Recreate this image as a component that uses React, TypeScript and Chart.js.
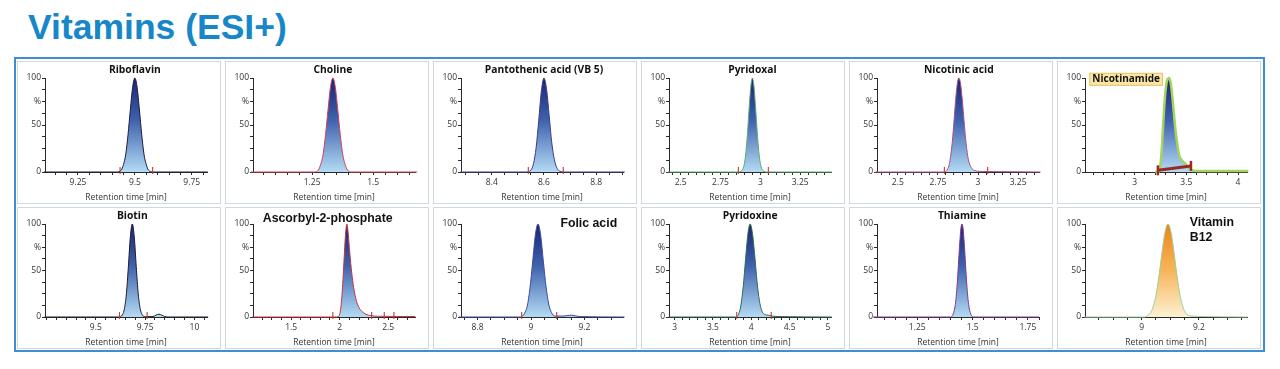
import React, { useEffect, useRef } from "react";
import { Chart, registerables } from "chart.js";

Chart.register(...registerables);

// ---------- chromatogram data: retention time [min] / relative intensity [%] ----------
const riboflavinTime = [9.1, 9.42, 9.44, 9.45, 9.46, 9.47, 9.48, 9.49, 9.5, 9.51, 9.52, 9.53, 9.54, 9.55, 9.56, 9.58, 9.82];
const riboflavinPct = [0, 0, 2, 8, 19, 40, 66, 90, 100, 90, 66, 40, 19, 8, 2, 0, 0];
const riboflavinMarks = [9.435, 9.578];

const cholineTime = [1.0, 1.26, 1.275, 1.285, 1.295, 1.305, 1.315, 1.325, 1.335, 1.345, 1.355, 1.365, 1.375, 1.385, 1.395, 1.41, 1.68];
const cholinePct = [0, 0, 2, 8, 19, 40, 66, 90, 100, 90, 66, 40, 19, 8, 2, 0, 0];
const cholineMarks: number[] = [];

const pantothenicTime = [8.28, 8.53, 8.55, 8.56, 8.57, 8.58, 8.59, 8.6, 8.61, 8.62, 8.63, 8.64, 8.65, 8.66, 8.68, 8.91];
const pantothenicPct = [0, 0, 2, 9, 26, 55, 86, 100, 88, 60, 31, 13, 4, 1, 0, 0];
const pantothenicMarks = [8.54, 8.674];

const pyridoxalTime = [2.42, 2.86, 2.88, 2.89, 2.9, 2.91, 2.92, 2.93, 2.94, 2.95, 2.96, 2.97, 2.98, 2.99, 3.0, 3.01, 3.02, 3.04, 3.45];
const pyridoxalPct = [0, 0, 1, 3, 9, 22, 43, 69, 91, 100, 91, 69, 43, 22, 9, 3, 1, 0, 0];
const pyridoxalMarks = [2.862, 3.05];

const nicotinicTime = [2.36, 2.79, 2.81, 2.82, 2.83, 2.84, 2.85, 2.86, 2.87, 2.88, 2.89, 2.9, 2.91, 2.92, 2.93, 2.94, 2.96, 2.98, 3.0, 3.06, 3.39];
const nicotinicPct = [0, 0, 3, 8, 18, 33, 54, 76, 93, 100, 95, 80, 60, 40, 24, 13, 4, 1.5, 0.8, 0.5, 0];
const nicotinicMarks = [2.79, 3.06];

const nicotinamideTime = [3.2, 3.23, 3.245, 3.26, 3.275, 3.29, 3.305, 3.32, 3.335, 3.35, 3.365, 3.38, 3.395, 3.41, 3.43, 3.46, 3.49, 3.52, 3.55, 3.6, 4.1];
const nicotinamidePct = [0, 0, 4, 20, 48, 75, 92, 99, 100, 94, 80, 62, 45, 32, 18, 12, 9, 5, 2, 1, 1];
const nicotinamideMarks: number[] = [];
const nicotinamideBaseTime = [3.225, 3.545];
const nicotinamideBasePct = [1.8, 6.5];

const biotinTime = [9.24, 9.615, 9.635, 9.645, 9.655, 9.665, 9.675, 9.685, 9.695, 9.705, 9.715, 9.725, 9.735, 9.75, 9.79, 9.805, 9.82, 9.835, 9.85, 9.87, 10.07];
const biotinPct = [0, 0, 2.5, 9, 25, 54, 86, 100, 86, 54, 25, 9, 2.5, 0.3, 0.5, 2, 3, 2, 0.5, 0, 0];
const biotinMarks = [9.62, 9.76];

const ascorbylTime = [1.1, 1.95, 1.99, 2.0, 2.01, 2.02, 2.03, 2.04, 2.05, 2.06, 2.07, 2.075, 2.08, 2.09, 2.1, 2.12, 2.14, 2.16, 2.18, 2.2, 2.23, 2.27, 2.32, 2.4, 2.78];
const ascorbylPct = [0, 0, 0.5, 3, 8, 18, 32, 50, 70, 88, 98, 100, 98, 88, 75, 52, 35, 23, 15, 10, 6, 3, 1.5, 0.8, 0.5];
const ascorbylMarks = [1.93, 2.33, 2.46, 2.56];

const folicTime = [8.73, 8.96, 8.976, 8.986, 8.996, 9.006, 9.016, 9.026, 9.036, 9.046, 9.056, 9.066, 9.076, 9.09, 9.12, 9.15, 9.18, 9.35];
const folicPct = [0, 0, 4, 12, 31, 59, 88, 100, 88, 60, 33, 14, 5, 1, 1, 2, 0.5, 0];
const folicMarks = [8.965, 9.096];

const pyridoxineTime = [2.92, 3.8, 3.835, 3.865, 3.895, 3.925, 3.955, 3.985, 4.015, 4.045, 4.075, 4.105, 4.135, 4.17, 4.22, 4.27, 4.35, 5.05];
const pyridoxinePct = [0, 0, 3, 13, 33, 62, 89, 100, 90, 66, 38, 18, 7, 3, 2, 1, 0.5, 0];
const pyridoxineMarks = [3.81, 4.26];

const thiamineTime = [1.05, 1.4, 1.412, 1.422, 1.427, 1.432, 1.437, 1.442, 1.447, 1.452, 1.457, 1.462, 1.467, 1.472, 1.477, 1.482, 1.492, 1.505, 1.8];
const thiaminePct = [0, 0, 3, 13.5, 25, 41, 61, 80, 95, 100, 95, 80, 61, 41, 25, 13.5, 3, 0, 0];
const thiamineMarks: number[] = [];

const b12Time = [8.8, 9.01, 9.022, 9.032, 9.042, 9.052, 9.062, 9.072, 9.082, 9.092, 9.102, 9.112, 9.122, 9.132, 9.142, 9.152, 9.162, 9.18, 9.22, 9.37];
const b12Pct = [0, 0, 2, 5, 13, 27, 48, 72, 92, 100, 92, 72, 48, 27, 13, 5, 2, 1, 0.5, 0];
const b12Marks: number[] = [];

// ---------- text ----------
const pageTitle = "Vitamins (ESI+)";
const xAxisTitle = "Retention time [min]";
const yTickLabelValues = [0, 50, 100];
const yUnitLabel = "%";
const yUnitValue = 75;

type PanelData = {
  name: string;
  time: number[];
  pct: number[];
  marks: number[];
  xMin: number;
  xMax: number;
  labelStep: number;
  minorStep: number;
};

const panelData: PanelData[] = [
  { name: "Riboflavin", time: riboflavinTime, pct: riboflavinPct, marks: riboflavinMarks, xMin: 9.105, xMax: 9.817, labelStep: 0.25, minorStep: 0.05 },
  { name: "Choline", time: cholineTime, pct: cholinePct, marks: cholineMarks, xMin: 1.008, xMax: 1.671, labelStep: 0.25, minorStep: 0.05 },
  { name: "Pantothenic acid (VB 5)", time: pantothenicTime, pct: pantothenicPct, marks: pantothenicMarks, xMin: 8.282, xMax: 8.903, labelStep: 0.2, minorStep: 0.05 },
  { name: "Pyridoxal", time: pyridoxalTime, pct: pyridoxalPct, marks: pyridoxalMarks, xMin: 2.427, xMax: 3.443, labelStep: 0.25, minorStep: 0.05 },
  { name: "Nicotinic acid", time: nicotinicTime, pct: nicotinicPct, marks: nicotinicMarks, xMin: 2.37, xMax: 3.38, labelStep: 0.25, minorStep: 0.05 },
  { name: "Nicotinamide", time: nicotinamideTime, pct: nicotinamidePct, marks: nicotinamideMarks, xMin: 2.52, xMax: 4.087, labelStep: 0.5, minorStep: 0.1 },
  { name: "Biotin", time: biotinTime, pct: biotinPct, marks: biotinMarks, xMin: 9.242, xMax: 10.064, labelStep: 0.25, minorStep: 0.05 },
  { name: "Ascorbyl-2-phosphate", time: ascorbylTime, pct: ascorbylPct, marks: ascorbylMarks, xMin: 1.107, xMax: 2.777, labelStep: 0.5, minorStep: 0.1 },
  { name: "Folic acid", time: folicTime, pct: folicPct, marks: folicMarks, xMin: 8.738, xMax: 9.344, labelStep: 0.2, minorStep: 0.05 },
  { name: "Pyridoxine", time: pyridoxineTime, pct: pyridoxinePct, marks: pyridoxineMarks, xMin: 2.926, xMax: 5.04, labelStep: 0.5, minorStep: 0.1 },
  { name: "Thiamine", time: thiamineTime, pct: thiaminePct, marks: thiamineMarks, xMin: 1.068, xMax: 1.8, labelStep: 0.25, minorStep: 0.05 },
  { name: "Vitamin B12", time: b12Time, pct: b12Pct, marks: b12Marks, xMin: 8.802, xMax: 9.368, labelStep: 0.2, minorStep: 0.05 },
];

// ---------- styles ----------
type LabelKind = "apex" | "boxed" | "large";
type PanelStyle = {
  line: string;
  lineWidth: number;
  palette: "blue" | "orange";
  label: LabelKind;
  labelX?: number;
  labelY?: number;
  align?: "left" | "center";
  wrap?: boolean;
};

const panelStyles: PanelStyle[] = [
  { line: "#1c1c40", lineWidth: 1, palette: "blue", label: "apex" },
  { line: "#cf3f5a", lineWidth: 1, palette: "blue", label: "apex" },
  { line: "#3f3a86", lineWidth: 1, palette: "blue", label: "apex" },
  { line: "#5fa86e", lineWidth: 1, palette: "blue", label: "apex" },
  { line: "#a2508e", lineWidth: 1, palette: "blue", label: "apex" },
  { line: "#a6d35e", lineWidth: 2.5, palette: "blue", label: "boxed", labelX: 2.918, labelY: 98.6 },
  { line: "#1c1c2c", lineWidth: 1, palette: "blue", label: "apex" },
  { line: "#c3343f", lineWidth: 1, palette: "blue", label: "large", labelX: 1.877, labelY: 105.4, align: "center" },
  { line: "#3b4aa0", lineWidth: 1, palette: "blue", label: "large", labelX: 9.216, labelY: 100, align: "center" },
  { line: "#2f6c52", lineWidth: 1, palette: "blue", label: "apex" },
  { line: "#7d3b8c", lineWidth: 1, palette: "blue", label: "apex" },
  { line: "#9ccf9f", lineWidth: 1, palette: "orange", label: "large", labelX: 9.168, labelY: 101.4, align: "left", wrap: true },
];

const UI_FONT = '"Open Sans", "Noto Sans", sans-serif';
const ARIAL = '"Liberation Sans", Arial, sans-serif';
const AXIS_COLOR = "#2a2a2a";
const TEXT_COLOR = "#333";

const PANEL_W = 204;
const PANEL_PITCH = 208;
const PANEL_LEFT0 = 17;
const ROW_TOPS = [61, 207];
const ROW_HEIGHTS = [143, 142];

function fmt(v: number) {
  return String(parseFloat(v.toFixed(3)));
}

function isMultiple(v: number, step: number) {
  const r = v / step;
  return Math.abs(r - Math.round(r)) < 1e-6;
}

function makeGradient(chart: any, palette: "blue" | "orange") {
  const { ctx, chartArea } = chart;
  if (!chartArea) return "rgba(0,0,0,0)";
  const g = ctx.createLinearGradient(0, chartArea.top, 0, chartArea.bottom);
  if (palette === "blue") {
    g.addColorStop(0, "#1b2270");
    g.addColorStop(0.45, "#3f62ad");
    g.addColorStop(1, "#b3dbf4");
  } else {
    g.addColorStop(0, "#ee8418");
    g.addColorStop(0.5, "#f6b55a");
    g.addColorStop(1, "#fdf1d2");
  }
  return g;
}

function titlePlugin(d: PanelData, s: PanelStyle) {
  return {
    id: "panelTitle",
    afterDraw(chart: any) {
      const ctx = chart.ctx;
      const xs = chart.scales.x;
      const ys = chart.scales.y;
      ctx.save();
      ctx.textBaseline = "middle";
      ctx.fillStyle = "#111";
      if (s.label === "apex") {
        const peak = d.pct.indexOf(Math.max(...d.pct));
        ctx.font = `bold 10.3px ${UI_FONT}`;
        ctx.textAlign = "center";
        ctx.fillText(d.name, xs.getPixelForValue(d.time[peak]), ys.getPixelForValue(108.5));
      } else if (s.label === "boxed") {
        ctx.font = `bold 10px ${UI_FONT}`;
        const w = ctx.measureText(d.name).width;
        const cx = xs.getPixelForValue(s.labelX);
        const cy = ys.getPixelForValue(s.labelY);
        ctx.fillStyle = "#fbe7a3";
        ctx.strokeStyle = "#e3c36c";
        ctx.lineWidth = 1;
        ctx.fillRect(cx - w / 2 - 3, cy - 6.5, w + 6, 13);
        ctx.strokeRect(cx - w / 2 - 3 + 0.5, cy - 6.5 + 0.5, w + 5, 12);
        ctx.fillStyle = "#111";
        ctx.textAlign = "center";
        ctx.fillText(d.name, cx, cy);
      } else {
        ctx.font = `bold 12.3px ${ARIAL}`;
        ctx.textAlign = s.align || "center";
        const lines = s.wrap ? d.name.split(" ") : [d.name];
        const x = xs.getPixelForValue(s.labelX);
        const y = ys.getPixelForValue(s.labelY);
        lines.forEach((ln, i) => ctx.fillText(ln, x, y + i * 14.6));
      }
      ctx.restore();
    },
  };
}

function ChromPanel({ d, s, left, top, height }: { d: PanelData; s: PanelStyle; left: number; top: number; height: number }) {
  const ref = useRef<HTMLCanvasElement>(null);
  const cw = PANEL_W - 2;
  const ch = height - 2;

  useEffect(() => {
    const canvas = ref.current;
    if (!canvas) return;
    const datasets: any[] = [
      {
        data: d.time.map((t, i) => ({ x: t, y: d.pct[i] })),
        borderColor: s.line,
        borderWidth: s.lineWidth,
        backgroundColor: (c: any) => makeGradient(c.chart, s.palette),
        fill: "origin",
        pointRadius: 0,
        cubicInterpolationMode: "monotone",
        clip: 6,
        order: 3,
      },
    ];
    if (d.name === "Nicotinamide") {
      datasets.push({
        data: nicotinamideBaseTime.map((t, i) => ({ x: t, y: nicotinamideBasePct[i] })),
        borderColor: "#9a2a1e",
        borderWidth: 3,
        pointStyle: "line",
        pointRotation: 90,
        pointRadius: 5,
        pointBorderColor: "#9a2a1e",
        pointBorderWidth: 2.5,
        fill: false,
        clip: 6,
        order: 1,
      });
    }
    if (d.marks.length) {
      datasets.push({
        data: d.marks.map((m) => ({ x: m, y: 1.5 })),
        showLine: false,
        pointStyle: "line",
        pointRotation: 90,
        pointRadius: 3.5,
        pointBorderColor: "#c4382e",
        pointBackgroundColor: "#c4382e",
        pointBorderWidth: 1.1,
        fill: false,
        clip: 6,
        order: 0,
      });
    }
    const span = d.xMax - d.xMin;

    const chart = new Chart(canvas, {
      type: "line",
      data: { datasets },
      options: {
        animation: false,
        responsive: false,
        devicePixelRatio: 1,
        events: [],
        layout: { padding: { top: 16, right: 13, bottom: 0, left: 0 } },
        plugins: { legend: { display: false }, tooltip: { enabled: false }, title: { display: false } },
        scales: {
          x: {
            type: "linear",
            min: d.xMin,
            max: d.xMax,
            afterFit: (sc: any) => {
              sc.height = 31;
            },
            border: { display: true, color: AXIS_COLOR, width: 1 },
            grid: { drawOnChartArea: false, drawTicks: true, tickLength: 3, color: AXIS_COLOR },
            ticks: {
              stepSize: d.minorStep,
              autoSkip: false,
              includeBounds: false,
              maxRotation: 0,
              minRotation: 0,
              padding: 2,
              color: TEXT_COLOR,
              font: { family: UI_FONT, size: 8.5 },
              callback: (v: any) => {
                const n = Number(v);
                if ((n - d.xMin) / span < 0.02) return "";
                return isMultiple(n, d.labelStep) ? fmt(n) : "";
              },
            },
            title: {
              display: true,
              text: xAxisTitle,
              color: TEXT_COLOR,
              font: { family: UI_FONT, size: 8.5 },
              padding: { top: 1, bottom: 0 },
            },
          },
          y: {
            type: "linear",
            min: 0,
            max: 100,
            afterFit: (sc: any) => {
              sc.width = 27;
            },
            border: { display: true, color: AXIS_COLOR, width: 1 },
            grid: { drawOnChartArea: false, drawTicks: true, tickLength: 3, color: AXIS_COLOR },
            ticks: {
              stepSize: 12.5,
              autoSkip: false,
              padding: 1,
              color: TEXT_COLOR,
              font: { family: UI_FONT, size: 8.5 },
              callback: (v: any) => {
                const n = Number(v);
                if (yTickLabelValues.some((t) => Math.abs(t - n) < 1e-6)) return fmt(n);
                if (Math.abs(n - yUnitValue) < 1e-6) return yUnitLabel;
                return "";
              },
            },
          },
        },
      } as any,
      plugins: [titlePlugin(d, s)],
    } as any);
    return () => chart.destroy();
  }, []);

  return (
    <div
      style={{
        position: "absolute",
        left,
        top,
        width: PANEL_W,
        height,
        border: "1px solid #cfd8e1",
        boxSizing: "border-box",
        background: "#fff",
      }}
    >
      <canvas ref={ref} width={cw} height={ch} style={{ display: "block", width: cw, height: ch }} />
    </div>
  );
}

export default function App() {
  return (
    <div style={{ position: "absolute", left: 0, top: 0, width: 1280, height: 369, background: "#fff", overflow: "hidden" }}>
      <div
        style={{
          position: "absolute",
          left: 28,
          top: 10,
          fontFamily: ARIAL,
          fontWeight: "bold",
          fontSize: 35.5,
          lineHeight: "35px",
          color: "#1787c8",
          whiteSpace: "nowrap",
        }}
      >
        {pageTitle}
      </div>
      <div
        style={{
          position: "absolute",
          left: 14,
          top: 57,
          width: 1251,
          height: 295,
          border: "2px solid #3d8fd2",
          boxSizing: "border-box",
        }}
      />
      {panelData.map((d, i) => {
        const row = Math.floor(i / 6);
        const col = i % 6;
        return (
          <ChromPanel
            key={d.name}
            d={d}
            s={panelStyles[i]}
            left={PANEL_LEFT0 + col * PANEL_PITCH}
            top={ROW_TOPS[row]}
            height={ROW_HEIGHTS[row]}
          />
        );
      })}
    </div>
  );
}
